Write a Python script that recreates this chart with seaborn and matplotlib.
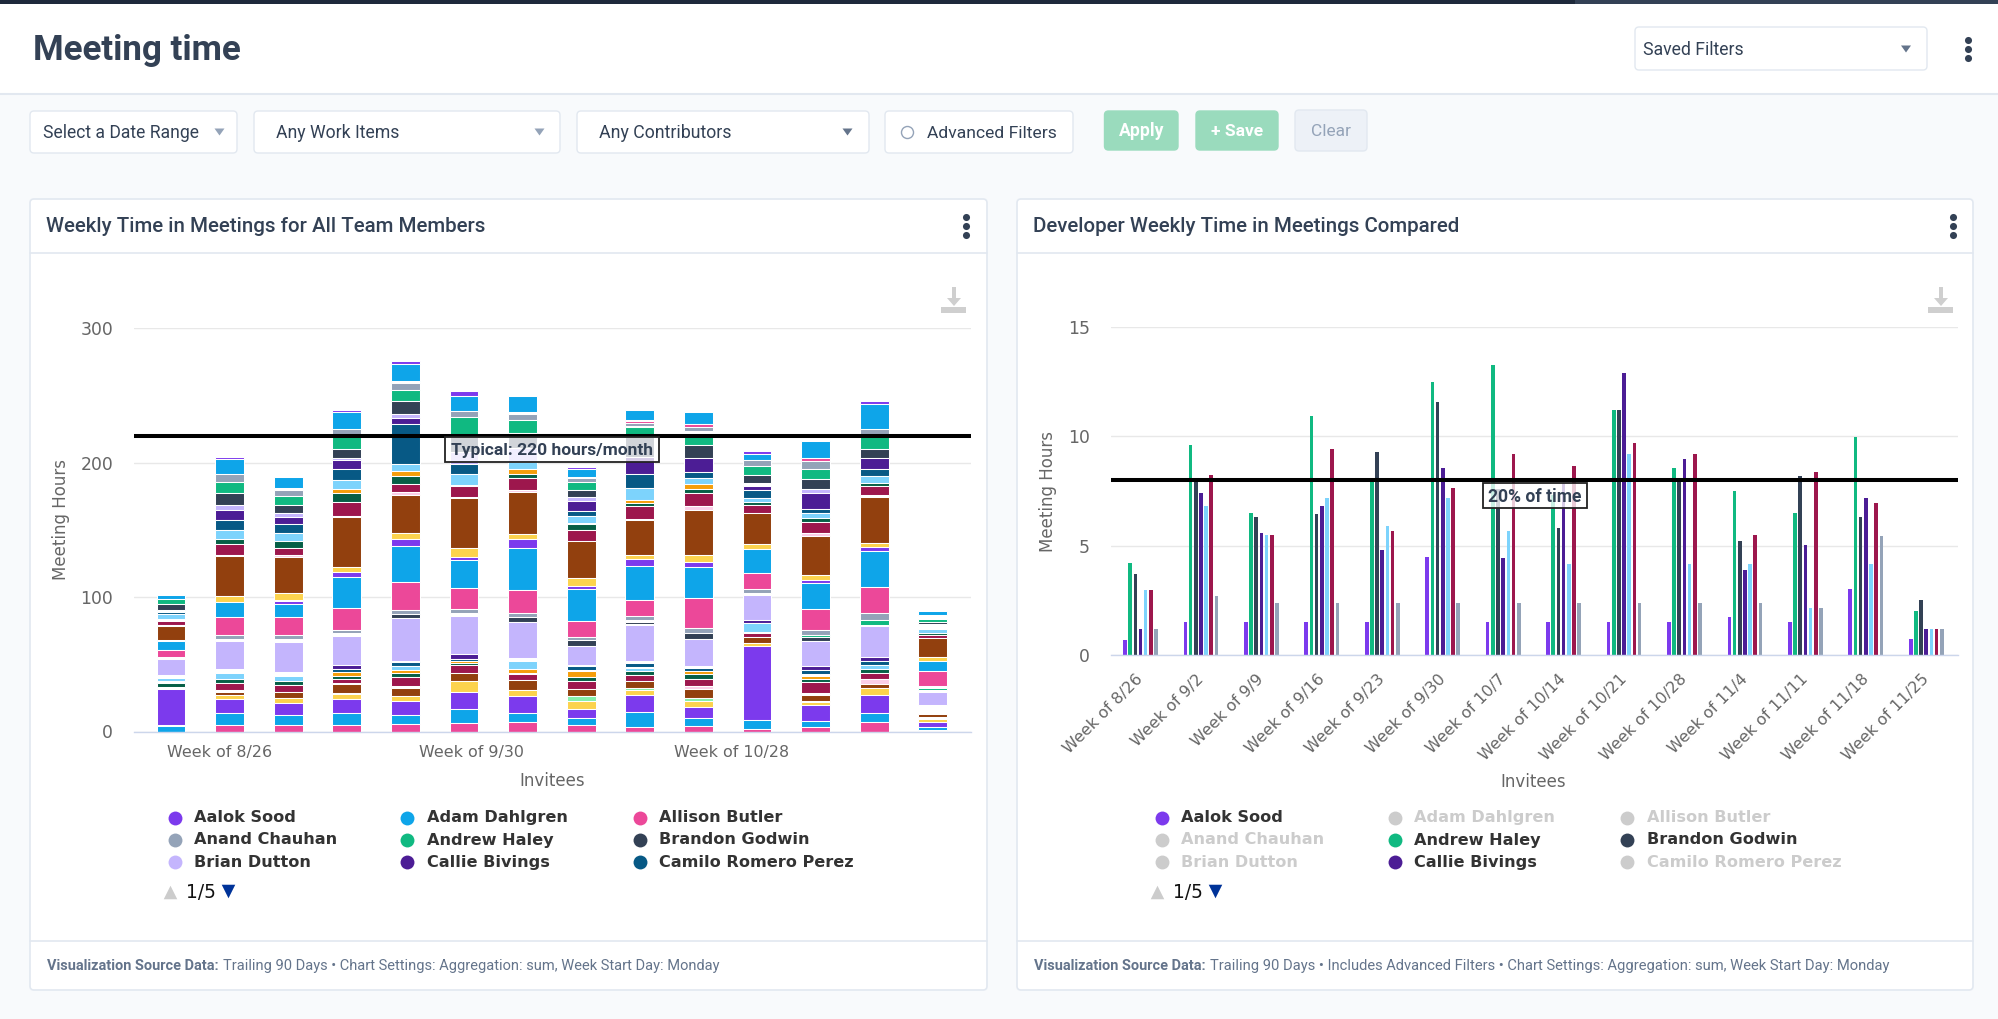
import matplotlib
matplotlib.use("Agg")
import matplotlib.pyplot as plt
from matplotlib.patches import FancyBboxPatch, Rectangle, Polygon
from matplotlib.transforms import ScaledTranslation
import pandas as pd
import seaborn as sns

# ---------- data: left chart, one pair of lists per week, top of stack first ----------
# id = invitee number in stack order, -1 = empty space in the stack
weeks_all = ["Week of 8/26", "Week of 9/2", "Week of 9/9", "Week of 9/16", "Week of 9/23", "Week of 9/30",
             "Week of 10/7", "Week of 10/14", "Week of 10/21", "Week of 10/28", "Week of 11/4", "Week of 11/11",
             "Week of 11/18", "Week of 11/25"]

w00_ids = [1, 4, 5, -1, 8, 9, -1, 12, 13, 14, -1, 17, 18, -1, 22, -1, 25, -1, 27, -1, 32, -1, 33]
w00_hours = [3.5, 3.7, 4.0, 1.7, 1.7, 3.5, 1.2, 3.0, 0.7, 10.4, 1.2, 6.2, 5.2, 1.5, 12.4, 1.7, 2.7, 1.7, 2.7, 1.5, 27.0, 0.5, 4.0]
w01_ids = [0, 1, 3, 4, 5, 6, 7, 8, 9, 11, 12, 13, 14, 15, 17, 18, 19, -1, 22, -1, 25, 27, 28, -1, 30, 31, 32, 33, 34]
w01_hours = [2.0, 11.2, 5.4, 8.7, 8.7, 3.7, 7.4, 7.4, 7.0, 3.2, 8.4, 1.0, 29.5, 4.5, 11.2, 13.6, 2.5, 1.5, 21.3, 2.7, 4.2, 3.5, 5.0, 1.5, 2.0, 3.2, 10.7, 8.2, 5.2]
w02_ids = [1, -1, 3, 4, 5, 6, 7, 8, 9, 11, 12, 13, 14, 15, -1, 16, 17, 18, 19, -1, 22, -1, 25, 27, 28, 30, 31, 32, 33, 34]
w02_hours = [8.7, 1.5, 4.0, 6.5, 6.5, 2.5, 5.5, 6.5, 5.7, 5.2, 5.5, 1.5, 27.0, 5.2, 0.5, 2.0, 10.0, 13.6, 2.5, 2.2, 22.8, 2.5, 4.0, 2.7, 5.5, 4.2, 4.2, 8.7, 7.7, 4.5]
w03_ids = [0, 1, 3, 4, 5, 6, 7, 8, 9, 10, 11, 12, 13, 14, 15, 16, 17, 18, 19, -1, 22, 23, 24, 26, 27, 28, -1, 30, -1, 31, 32, 33, 34]
w03_hours = [2.0, 12.0, 5.5, 9.7, 6.7, 1.5, 6.5, 8.4, 6.7, 3.2, 6.5, 10.0, 0.7, 37.7, 3.2, 4.2, 23.0, 16.0, 2.5, 2.0, 22.0, 2.5, 2.5, 3.0, 2.5, 2.7, 0.5, 6.7, 1.0, 3.7, 10.7, 8.2, 5.2]
w04_ids = [0, 1, -1, 3, 4, 5, 6, 7, 8, 9, 10, 11, 12, 13, 14, 15, 16, 17, 18, 19, 21, 22, -1, 24, 25, 26, 27, 28, -1, 30, 31, 32, 33, 34]
w04_hours = [2.2, 12.9, 1.5, 5.2, 7.7, 9.7, 3.5, 4.5, 29.3, 5.5, 3.5, 6.2, 5.7, 2.2, 28.5, 4.5, 5.2, 26.3, 20.8, 3.0, 3.5, 31.5, 1.2, 2.5, 3.0, 2.7, 2.7, 6.7, 1.2, 6.5, 3.2, 10.7, 6.7, 5.5]
w05_ids = [0, 1, 3, 4, 5, 6, 8, 9, -1, 12, -1, 14, 15, 16, 17, 18, 19, -1, 22, 23, 24, 26, 27, 28, 30, 31, 32, 33, 34]
w05_hours = [4.0, 11.2, 4.5, 13.9, 11.9, 8.9, 7.4, 7.9, 1.2, 7.7, 1.2, 36.7, 6.7, 2.2, 20.8, 16.1, 2.5, 2.2, 28.3, 4.2, 1.5, 1.5, 1.5, 5.5, 6.5, 7.9, 12.9, 9.9, 6.5]
w06_ids = [1, -1, 3, 4, 5, 6, 9, 10, 11, 12, 13, 14, 15, 16, 17, 18, 19, 21, 22, -1, 25, 26, -1, 28, 30, 31, 32, 33, 34]
w06_hours = [11.9, 1.5, 4.0, 9.9, 11.4, 10.4, 5.2, 3.2, 3.5, 8.7, 1.5, 31.5, 3.5, 6.2, 31.8, 16.6, 3.0, 3.7, 27.3, 2.2, 6.0, 3.0, 0.7, 4.2, 7.7, 4.5, 12.7, 6.7, 6.7]
w07_ids = [0, 1, -1, 3, 4, 5, 6, 7, 8, 9, -1, 11, 12, 14, 15, 16, 17, 18, 19, 21, 22, -1, 24, -1, 26, 27, 28, 30, 35, 31, 32, 33, 34]
w07_hours = [2.2, 5.5, 1.0, 2.5, 6.2, 5.5, 2.7, 7.2, 4.0, 5.2, 1.0, 4.0, 8.7, 27.5, 5.5, 2.2, 24.0, 11.7, 2.7, 4.0, 14.6, 0.7, 2.5, 1.0, 4.5, 3.0, 5.5, 5.7, 3.5, 6.2, 6.5, 5.5, 4.5]
w08_ids = [1, -1, 2, 3, -1, 4, 5, 7, 8, 9, 10, 11, 12, -1, 14, 15, 16, 17, 18, 19, -1, 21, -1, 22, -1, 24, -1, 25, 27, 28, 30, 35, 31, 32, 33, 34]
w08_hours = [7.4, 0.7, 1.7, 2.2, 0.5, 6.9, 15.4, 12.9, 9.9, 8.9, 2.2, 2.2, 9.9, 1.0, 26.0, 3.2, 4.5, 25.3, 11.9, 3.5, 1.0, 2.0, 0.7, 26.5, 1.2, 3.2, 0.7, 2.7, 2.5, 5.0, 4.5, 2.2, 3.2, 12.9, 11.2, 3.2]
w09_ids = [1, 2, 3, -1, 4, 5, 7, 8, 9, 10, 11, 12, 13, 14, 15, 16, 17, 18, 19, 21, 22, -1, 24, 26, 27, 28, 29, 30, 35, 31, 32, 33, 34]
w09_hours = [8.4, 2.2, 3.0, 3.5, 7.4, 9.2, 10.7, 4.5, 4.5, 3.2, 3.2, 9.7, 3.0, 33.3, 5.5, 3.5, 23.0, 22.6, 3.2, 4.5, 20.6, 1.5, 2.0, 2.5, 3.2, 5.2, 2.5, 6.5, 2.2, 4.5, 8.7, 5.5, 4.2]
w10_ids = [0, 1, 3, 4, 5, -1, 7, 8, 9, 11, 12, 14, 15, 17, 18, 19, -1, 22, 23, 25, -1, 28, 30, 31, 32, 33, -1, 34]
w10_hours = [2.2, 4.7, 4.0, 6.9, 5.7, 2.5, 3.0, 5.5, 3.2, 2.5, 5.5, 23.0, 4.2, 17.4, 11.9, 3.5, 1.2, 18.4, 2.2, 6.7, 1.0, 3.0, 4.2, 2.5, 54.6, 6.7, 0.5, 1.7]
w11_ids = [1, 2, 3, 4, 5, 6, 7, 8, 9, 11, 12, 13, 14, 15, 16, 17, 18, 19, 20, 21, 22, 23, 24, -1, 26, 27, 28, -1, 30, -1, 31, 32, 33, 34]
w11_hours = [12.9, 2.0, 6.5, 6.7, 7.7, 3.2, 11.9, 3.2, 3.5, 3.2, 7.7, 2.7, 29.0, 3.2, 2.5, 19.4, 15.4, 3.5, 2.0, 2.5, 19.1, 2.5, 3.5, 1.0, 2.2, 2.5, 8.2, 1.2, 4.5, 1.2, 2.0, 11.9, 4.5, 3.2]
w12_ids = [0, 1, 3, 4, 5, 7, 8, 9, -1, 11, 12, -1, 14, 15, 16, 17, 18, 19, 20, -1, 22, 23, 24, 25, 27, 28, 29, 30, 31, 32, 33, 34]
w12_hours = [2.2, 18.4, 5.5, 9.7, 6.9, 7.7, 5.2, 5.0, 0.7, 2.2, 6.2, 1.5, 34.7, 2.5, 3.2, 27.0, 18.9, 5.2, 3.5, 1.2, 22.6, 3.2, 2.7, 3.7, 2.7, 4.7, 3.5, 3.2, 4.7, 13.2, 7.4, 6.7]
w13_ids = [1, -1, 4, 5, -1, 9, 11, 12, 14, 15, 17, 18, -1, 20, -1, 22, -1, 30, -1, 31, 32, 33, -1]
w13_hours = [3.0, 2.5, 2.5, 1.7, 3.2, 3.0, 1.5, 2.2, 14.1, 3.0, 7.9, 11.2, 1.0, 2.0, 1.2, 9.4, 6.9, 2.5, 1.0, 2.5, 3.5, 2.5, 1.0]

stack_colors = ["#7c3aed", "#0ea5e9", "#ec4899", "#94a3b8", "#10b981", "#334155", "#c4b5fd", "#4c1d95",
                "#075985", "#7dd3fc", "#f59e0b", "#065f46", "#9d174d", "#fbcfe8", "#92400e", "#fcd34d"]
extra_color = "#86efac"

# ---------- data: right chart ----------
compare_names = ["Aalok Sood", "Andrew Haley", "Brandon Godwin", "Callie Bivings", "Invitee 10", "Invitee 13", "Invitee 20"]
compare_colors = ["#7c3aed", "#10b981", "#334155", "#4c1d95", "#7dd3fc", "#9d174d", "#94a3b8"]
aalok_hours = [0.7, 1.5, 1.5, 1.5, 1.5, 4.5, 1.5, 1.5, 1.5, 1.5, 1.75, 1.5, 3.0, 0.75]
andrew_hours = [4.2, 9.6, 6.5, 10.95, 7.95, 12.5, 13.25, 7.3, 11.2, 8.55, 7.5, 6.5, 9.95, 2.0]
brandon_hours = [3.7, 7.95, 6.3, 6.45, 9.3, 11.55, 7.6, 5.8, 11.2, 7.95, 5.2, 8.2, 6.3, 2.5]
callie_hours = [1.2, 7.4, 5.6, 6.8, 4.8, 8.55, 4.45, 7.85, 12.9, 8.95, 3.9, 5.05, 7.2, 1.2]
blue_hours = [2.95, 6.8, 5.5, 7.2, 5.9, 7.2, 5.65, 4.15, 9.2, 4.15, 4.15, 2.15, 4.15, 1.2]
crimson_hours = [2.95, 8.25, 5.5, 9.4, 5.65, 7.65, 9.2, 8.65, 9.7, 9.2, 5.5, 8.35, 6.95, 1.2]
slate_hours = [1.2, 2.7, 2.4, 2.4, 2.4, 2.4, 2.4, 2.4, 2.4, 2.4, 2.4, 2.15, 5.45, 1.2]

legend_names = ["Aalok Sood", "Anand Chauhan", "Brian Dutton", "Adam Dahlgren", "Andrew Haley", "Callie Bivings",
                "Allison Butler", "Brandon Godwin", "Camilo Romero Perez"]
legend_colors = ["#7c3aed", "#94a3b8", "#c4b5fd", "#0ea5e9", "#10b981", "#4c1d95", "#ec4899", "#334155", "#075985"]
legend_active_right = {"Aalok Sood", "Andrew Haley", "Brandon Godwin", "Callie Bivings"}
typical_hours = 220
typical_share_hours = 8

# ---------- figure ----------
sns.set_style("white")
W, H = 1999, 1019
INK = "#334155"
BORDER = "#e2e8f0"
UI = "Roboto"
AXIS_TEXT = "#666666"
fig = plt.figure(figsize=(W / 100, H / 100), dpi=100, facecolor="#f8fafc")
renderer = fig.canvas.get_renderer()


def layer(z):
    a = fig.add_axes([0, 0, 1, 1], zorder=z, facecolor="none")
    a.set_xlim(0, W)
    a.set_ylim(H, 0)
    a.axis("off")
    return a


bg = layer(0)
top = layer(5)


def box(a, x0, y0, x1, y1, fc="white", ec=BORDER, r=4, lw=1.0, z=1, alpha=None):
    a.add_patch(FancyBboxPatch((x0, y0), x1 - x0, y1 - y0, boxstyle=f"round,pad=0,rounding_size={r}",
                               fc=fc, ec=ec, lw=lw, zorder=z, alpha=alpha))


def text(a, x, y, s, width=None, size=12, color=INK, weight="normal", family=UI, ha="left", z=3):
    t = a.text(x, y, s, fontsize=size, color=color, fontweight=weight, family=family, va="center", ha=ha, zorder=z)
    if width:
        t.set_fontsize(size * width / t.get_window_extent(renderer).width)
    return t


def caret(a, x, y, color):
    a.add_patch(Polygon([(x - 5, y - 3.5), (x + 5, y - 3.5), (x, y + 3.5)], fc=color, ec="none", zorder=3))


def kebab(a, x, y):
    a.scatter([x, x, x], [y - 9, y, y + 9], s=26, color=INK, zorder=3, linewidths=0)


def download(a, x):
    c = "#cfcfcf"
    a.add_patch(Rectangle((x - 12.5, 307), 25, 6, fc=c, ec="none", zorder=3))
    a.add_patch(Rectangle((x - 2, 287), 4, 12, fc=c, ec="none", zorder=3))
    a.add_patch(Polygon([(x - 7, 298), (x + 7, 298), (x, 306)], fc=c, ec="none", zorder=3))


# page chrome
bg.add_patch(Rectangle((0, 0), 1575, 4, fc="#1e293b", ec="none"))
bg.add_patch(Rectangle((1575, 0), W - 1575, 4, fc="#334155", ec="none"))
bg.add_patch(Rectangle((0, 4), W, 90, fc="white", ec="none"))
bg.plot([0, W], [94, 94], color=BORDER, lw=1.5)
text(bg, 33, 50.5, "Meeting time", width=208, size=25, weight="bold")
box(bg, 1635, 27, 1927, 70)
text(bg, 1643, 50, "Saved Filters", width=100)
caret(bg, 1906, 49, "#64748b")
kebab(bg, 1968, 49)

for x0, x1, label, tx, tw, cx, cc in [
    (30, 237, "Select a Date Range", 43, 156, 219.5, "#94a3b8"),
    (254, 560, "Any Work Items", 276, 123, 539.5, "#94a3b8"),
    (577, 869, "Any Contributors", 599.5, 131.5, 847.5, "#64748b"),
]:
    box(bg, x0, 111, x1, 153)
    text(bg, tx, 133, label, width=tw)
    caret(bg, cx, 132, cc)
box(bg, 885, 111, 1073, 153)
bg.scatter([907.5], [132], s=75, facecolor="white", edgecolor="#94a3b8", linewidths=1, zorder=3)
text(bg, 927, 133, "Advanced Filters", width=129)
box(bg, 1104.5, 111, 1178, 150, fc="#9adbbd", ec="#9adbbd")
text(bg, 1119, 131, "Apply", width=45, color="white", weight="bold")
box(bg, 1196, 111, 1278, 150, fc="#9adbbd", ec="#9adbbd")
text(bg, 1211, 131, "+ Save", width=52, color="white", weight="bold")
box(bg, 1295, 110, 1367, 151, fc="#edf1f7", ec=BORDER)
text(bg, 1311, 131, "Clear", width=40, color="#94a3b8")

# cards
for x0, x1, title, title_x, title_w, kx, dx in [
    (30, 987, "Weekly Time in Meetings for All Team Members", 46, 439, 966, 954),
    (1017, 1973, "Developer Weekly Time in Meetings Compared", 1033, 426, 1953.5, 1941),
]:
    box(bg, x0, 199, x1, 990, lw=1.2)
    bg.plot([x0, x1], [253, 253], color=BORDER, lw=1.2, zorder=2)
    bg.plot([x0, x1], [941, 941], color=BORDER, lw=1.2, zorder=2)
    text(bg, title_x, 226, title, width=title_w, weight="medium")
    kebab(bg, kx, 226)
    download(bg, dx)

for x, bw, rest_x, rest_w, rest in [
    (47, 172, 223, 496, "Trailing 90 Days • Chart Settings: Aggregation: sum, Week Start Day: Monday"),
    (1034, 172, 1210.5, 677, "Trailing 90 Days • Includes Advanced Filters • Chart Settings: Aggregation: sum, Week Start Day: Monday"),
]:
    text(bg, x, 966, "Visualization Source Data:", width=bw, color="#64748b", weight="bold")
    text(bg, rest_x, 966, rest, width=rest_w, color="#64748b")


def chart_axes(x0, x1, y_top, y_base):
    a = fig.add_axes([x0 / W, 1 - y_base / H, (x1 - x0) / W, (y_base - y_top) / H], zorder=2, facecolor="none")
    return a


def style_axes(a, yticks, ymax):
    a.set_ylim(0, ymax)
    a.set_yticks(yticks)
    a.set_axisbelow(True)
    a.grid(axis="y", color="#e8e8e8", lw=1.0)
    a.grid(axis="x", visible=False)
    sns.despine(ax=a, left=True, top=True, right=True)
    a.spines["bottom"].set_color("#ccd6eb")
    a.spines["bottom"].set_linewidth(1.0)
    a.tick_params(axis="y", length=0, pad=15, labelsize=12.4, labelcolor=AXIS_TEXT)


# ---------- left chart: stacked bars ----------
axL = chart_axes(134, 971, 328, 731.5)
rows = []
for week, ids, hours in zip(weeks_all,
                            [w00_ids, w01_ids, w02_ids, w03_ids, w04_ids, w05_ids, w06_ids, w07_ids, w08_ids, w09_ids, w10_ids, w11_ids, w12_ids, w13_ids],
                            [w00_hours, w01_hours, w02_hours, w03_hours, w04_hours, w05_hours, w06_hours, w07_hours, w08_hours, w09_hours, w10_hours, w11_hours, w12_hours, w13_hours]):
    base = 0.0
    for sid, h in zip(reversed(ids), reversed(hours)):
        if sid >= 0:
            rows.append({"week": week, "order": weeks_all.index(week), "sid": sid, "hours": h, "bottom": base})
        base += h
stack = pd.DataFrame(rows)
for sid, part in stack.groupby("sid"):
    part = part.sort_values("order")
    color = extra_color if sid == 35 else stack_colors[sid % 16]
    sns.barplot(data=part, x="week", y="hours", order=weeks_all, bottom=part["bottom"].to_numpy(), color=color,
                saturation=1, width=0.49, errorbar=None, edgecolor="white", linewidth=0.75, ax=axL)
style_axes(axL, [0, 100, 200, 300], 300)
axL.set_xlim(-0.631, 13.652)
axL.set_xticks([0.83, 5.13, 9.57], [weeks_all[0], weeks_all[5], weeks_all[9]])
axL.tick_params(axis="x", length=10, width=1, color="#ccd6eb", pad=0, labelsize=11.4, labelcolor=AXIS_TEXT)
axL.axhline(typical_hours, color="black", lw=2.9, zorder=6)
axL.set_ylabel("Meeting Hours", fontsize=12, color=AXIS_TEXT, va="center")
axL.yaxis.set_label_coords((61 - 134) / 837, 0.526)
axL.set_xlabel("Invitees", fontsize=12, color=AXIS_TEXT, va="center")
axL.xaxis.set_label_coords((552 - 134) / 837, -(781.5 - 731.5) / 403.5)

# ---------- right chart: grouped bars ----------
axR = chart_axes(1110.7, 1957.7, 327, 655)
compare = pd.DataFrame({"week": weeks_all, "Aalok Sood": aalok_hours, "Andrew Haley": andrew_hours,
                        "Brandon Godwin": brandon_hours, "Callie Bivings": callie_hours, "Invitee 10": blue_hours,
                        "Invitee 13": crimson_hours, "Invitee 20": slate_hours})
compare = compare.melt("week", var_name="invitee", value_name="hours")
sns.barplot(data=compare, x="week", y="hours", hue="invitee", hue_order=compare_names, order=weeks_all,
            palette=compare_colors, saturation=1, width=0.6, gap=0.3, errorbar=None, legend=False, linewidth=0, ax=axR)
style_axes(axR, [0, 5, 10, 15], 15)
axR.set_xlim(-0.493, 13.52)
axR.set_xticks(range(14), weeks_all)
axR.tick_params(axis="x", length=0, pad=12, labelsize=11.4, labelcolor=AXIS_TEXT)
label_shift = ScaledTranslation(-5 / 100, 0, fig.dpi_scale_trans)
for lab in axR.get_xticklabels():
    lab.set_rotation(45)
    lab.set_ha("right")
    lab.set_rotation_mode("anchor")
    lab.set_transform(lab.get_transform() + label_shift)
axR.axhline(typical_share_hours, color="black", lw=2.9, zorder=6)
axR.set_ylabel("Meeting Hours", fontsize=12, color=AXIS_TEXT, va="center")
axR.yaxis.set_label_coords((1048 - 1110.7) / 847, 0.5)
axR.set_xlabel("Invitees", fontsize=12, color=AXIS_TEXT, va="center")
axR.xaxis.set_label_coords((1533 - 1110.7) / 847, -(781.5 - 655) / 328)

# reference labels
for x0, y0, x1, y1, tx, tw, s in [(445, 437, 659, 462, 451, 202, "Typical: 220 hours/month"),
                                  (1483, 483, 1587, 508, 1488, 93, "20% of time")]:
    top.add_patch(Rectangle((x0, y0), x1 - x0, y1 - y0, fc="white", ec="none", alpha=0.78, zorder=1))
    top.add_patch(Rectangle((x0, y0), x1 - x0, y1 - y0, fc="none", ec="#222222", lw=1.3, zorder=2))
    text(top, tx, (y0 + y1) / 2 + 1, s, width=tw, weight="bold")

# legends
for mark_xs, text_xs, pager, active in [
    ([175, 407, 640], [194, 427, 659], (170, 186, 228), None),
    ([1162.5, 1395, 1627.5], [1181, 1414, 1647], (1157.5, 1173, 1215.5), legend_active_right),
]:
    for i, (name, col) in enumerate(zip(legend_names, legend_colors)):
        column, row = i // 3, i % 3
        y = 817.7 + row * 22.3
        on = active is None or name in active
        bg.scatter([mark_xs[column]], [y], s=100, color=col if on else "#cccccc", linewidths=0, zorder=3)
        text(bg, text_xs[column], y, name, size=11.6, color="#333333" if on else "#cccccc", weight="bold", family="DejaVu Sans")
    bg.scatter([pager[0]], [892], s=95, marker="^", color="#cccccc", linewidths=0, zorder=3)
    text(bg, pager[1], 893, "1/5", width=30, size=11.6, color="#111111", family="DejaVu Sans")
    bg.scatter([pager[2]], [891], s=95, marker="v", color="#003399", linewidths=0, zorder=3)

fig.savefig("out.png", dpi=100, facecolor=fig.get_facecolor())
